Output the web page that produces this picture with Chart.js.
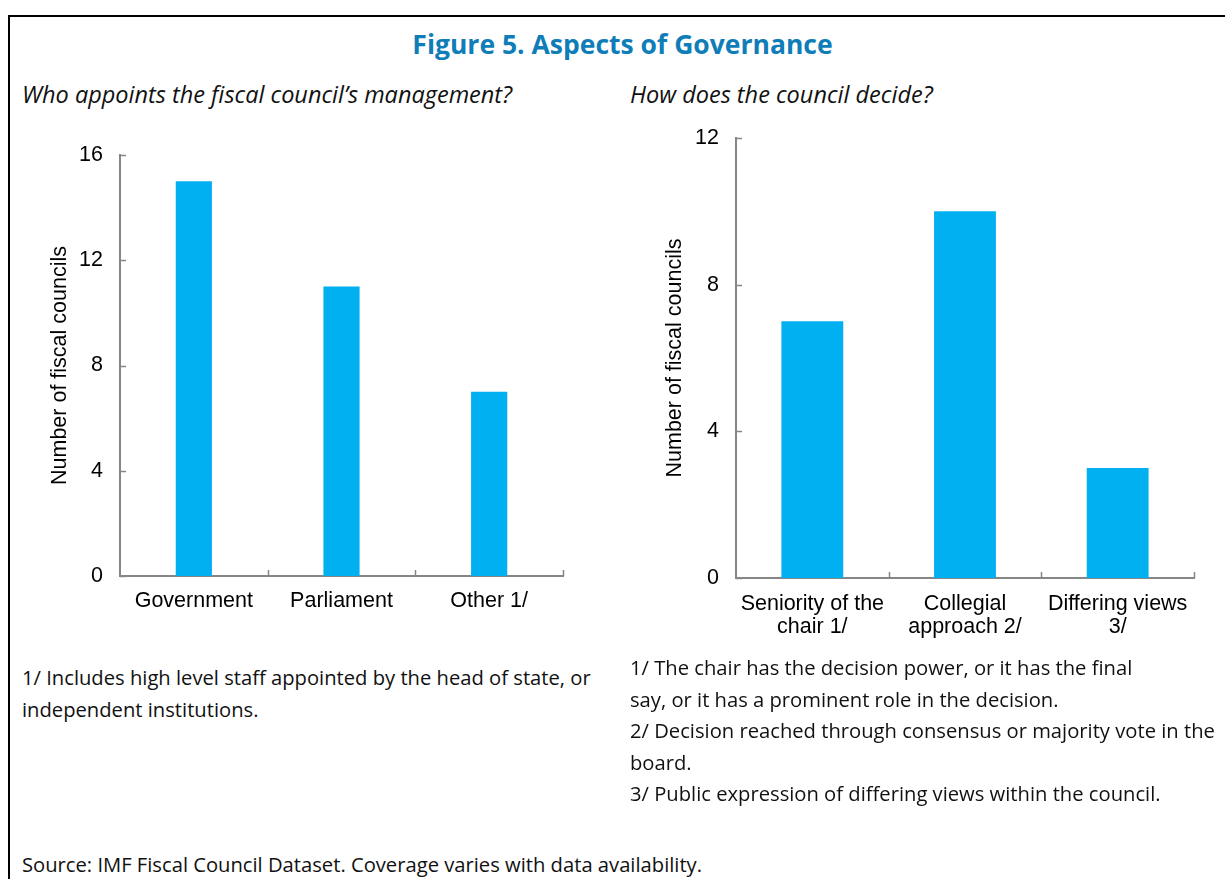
<!DOCTYPE html>
<html>
<head>
<meta charset="utf-8">
<script src="https://cdn.jsdelivr.net/npm/chart.js@4"></script>
<style>
  body { margin: 0; background: #fff; width: 1225px; height: 879px; overflow: hidden; position: relative; font-family: "Open Sans", "Noto Sans", sans-serif; color: #111; }
  .frame { position: absolute; left: 8px; top: 15px; width: 1240px; height: 900px; border: 2px solid #000; box-sizing: border-box; }
  .title { position: absolute; left: 0; width: 1245px; top: 26px; text-align: center; font-weight: bold; font-size: 26.5px; color: #0e7db8; }
  .sub { position: absolute; top: 78px; font-style: italic; font-size: 23.5px; }
  .note { position: absolute; font-size: 20.2px; line-height: 31.5px; }
  canvas { position: absolute; }
</style>
</head>
<body>
<div class="frame"></div>
<div class="title">Figure 5. Aspects of Governance</div>
<div class="sub" style="left:22px">Who appoints the fiscal council’s management?</div>
<div class="sub" style="left:630px">How does the council decide?</div>

<div id="leftWrap" style="position:absolute;left:30px;top:130px;width:560px;height:520px"><canvas id="appointChart"></canvas></div>
<div id="rightWrap" style="position:absolute;left:620px;top:120px;width:600px;height:540px"><canvas id="decideChart"></canvas></div>

<div class="note" style="left:22px;top:662px">1/ Includes high level staff appointed by the head of state, or<br>independent institutions.</div>
<div class="note" style="left:630px;top:652px">1/ The chair has the decision power, or it has the final<br>say, or it has a prominent role in the decision.<br>2/ Decision reached through consensus or majority vote in the<br>board.<br>3/ Public expression of differing views within the council.</div>
<div class="note" style="left:22px;top:849px">Source: IMF Fiscal Council Dataset. Coverage varies with data availability.</div>

<script>
// data
const appointLabels = ['Government', 'Parliament', 'Other 1/'];
const appointValues = [15, 11, 7];
const appointTicks = [0, 4, 8, 12, 16];

const decideLabels = [['Seniority of the', 'chair 1/'], ['Collegial', 'approach 2/'], ['Differing views', '3/']];
const decideValues = [7, 10, 3];
const decideTicks = [0, 4, 8, 12];

const barColor = '#00b0f0';
const axisColor = '#868686';
const tickFont = { family: '"Liberation Sans", Arial, sans-serif', size: 21.5, lineHeight: 1.1 };

// small tick marks drawn on the inner side of both axes
const innerTicks = {
  id: 'innerTicks',
  afterDraw(chart) {
    const { ctx, chartArea: a, scales: { x, y } } = chart;
    ctx.save();
    ctx.strokeStyle = axisColor;
    ctx.lineWidth = 1.5;
    ctx.beginPath();
    y.ticks.forEach((t, i) => {
      const py = Math.round(y.getPixelForTick(i)) + 0.5;
      ctx.moveTo(a.left, py);
      ctx.lineTo(a.left + 6, py);
    });
    for (let i = 0; i < x.ticks.length; i++) {
      const px = Math.round(x.getPixelForValue(i + 0.5)) + 0.5;
      ctx.moveTo(px, a.bottom);
      ctx.lineTo(px, a.bottom - 6);
    }
    ctx.stroke();
    ctx.restore();
  }
};

function makeChart(id, labels, values, tickVals, cfg) {
  const ctx = document.getElementById(id).getContext('2d');
  return new Chart(ctx, {
    type: 'bar',
    data: {
      labels: labels,
      datasets: [{
        data: values,
        backgroundColor: barColor,
        barPercentage: cfg.barPct,
        categoryPercentage: 1
      }]
    },
    options: {
      responsive: true,
      maintainAspectRatio: false,
      animation: false,
      layout: { padding: { top: cfg.padTop, right: cfg.padRight, left: 0, bottom: 0 } },
      plugins: { legend: { display: false }, tooltip: { enabled: false } },
      scales: {
        x: {
          grid: { display: false, drawTicks: false },
          border: { color: axisColor, width: 2 },
          ticks: { color: '#000', font: tickFont, padding: cfg.xPad, maxRotation: 0, autoSkip: false },
          afterFit: s => { s.height = cfg.xHeight; }
        },
        y: {
          min: 0,
          max: tickVals[tickVals.length - 1],
          afterBuildTicks: s => { s.ticks = tickVals.map(v => ({ value: v })); },
          grid: { display: false, drawTicks: false },
          border: { color: axisColor, width: 2 },
          ticks: { color: '#000', font: tickFont, padding: 17 },
          title: {
            display: true,
            text: 'Number of fiscal councils',
            color: '#000',
            font: tickFont,
            padding: { top: cfg.titlePad, bottom: 0 }
          },
          afterFit: s => { s.width = cfg.yWidth; s.paddingTop = 0; s.paddingBottom = 0; }
        }
      }
    },
    plugins: [innerTicks]
  });
}

makeChart('appointChart', appointLabels, appointValues, appointTicks,
  { barPct: 0.245, padTop: 25, padRight: 27, xHeight: 74, xPad: 13, yWidth: 90, titlePad: 18 });
makeChart('decideChart', decideLabels, decideValues, decideTicks,
  { barPct: 0.405, padTop: 18, padRight: 26, xHeight: 82, xPad: 14, yWidth: 116, titlePad: 43 });
</script>
</body>
</html>
